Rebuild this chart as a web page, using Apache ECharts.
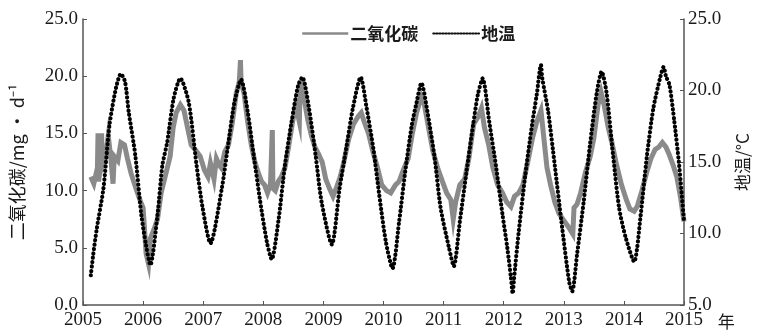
<!DOCTYPE html>
<html>
<head>
<meta charset="utf-8">
<script src="https://cdn.jsdelivr.net/npm/echarts@6/dist/echarts.min.js"></script>
<style>
html,body{margin:0;padding:0;background:#fff;}
#chart{width:759px;height:336px;}
</style>
</head>
<body>
<div id="chart"></div>
<script>
// ---- data ----
var seriesNames = ['二氧化碳', '地温'];
var yearTicks = ['2005','2006','2007','2008','2009','2010','2011','2012','2013','2014','2015'];
var leftTicks = ['0.0','5.0','10.0','15.0','20.0','25.0'];
var rightTicks = ['5.0','10.0','15.0','20.0','25.0'];

// CO2 (mg·d^-1)
var co2Years = [2005.13,2005.18,2005.24,2005.25,2005.26,2005.30,2005.31,2005.32,2005.38,2005.42,2005.46,2005.50,2005.52,2005.58,2005.63,2005.69,2005.74,2005.80,2005.88,2005.96,
2006.00,2006.05,2006.09,2006.12,2006.18,2006.24,2006.30,2006.38,2006.45,2006.50,2006.55,2006.62,2006.68,2006.74,2006.80,2006.88,2006.95,
2007.02,2007.08,2007.12,2007.18,2007.22,2007.27,2007.30,2007.36,2007.42,2007.48,2007.55,2007.60,2007.62,2007.63,2007.68,2007.74,2007.80,2007.86,2007.92,2007.97,
2008.02,2008.07,2008.12,2008.15,2008.16,2008.20,2008.25,2008.30,2008.36,2008.42,2008.48,2008.54,2008.60,2008.61,2008.64,2008.68,2008.74,2008.80,2008.86,2008.92,2008.98,
2009.04,2009.10,2009.16,2009.22,2009.28,2009.34,2009.42,2009.50,2009.58,2009.63,2009.68,2009.75,2009.82,2009.90,2009.97,
2010.05,2010.12,2010.20,2010.26,2010.33,2010.41,2010.48,2010.55,2010.63,2010.68,2010.75,2010.82,2010.90,2010.98,
2011.05,2011.12,2011.16,2011.20,2011.27,2011.35,2011.42,2011.50,2011.58,2011.63,2011.68,2011.75,2011.82,2011.90,2011.98,
2012.05,2012.12,2012.18,2012.25,2012.32,2012.40,2012.48,2012.55,2012.62,2012.67,2012.72,2012.78,2012.85,2012.92,
2013.00,2013.08,2013.15,2013.17,2013.22,2013.28,2013.36,2013.44,2013.50,2013.57,2013.62,2013.67,2013.74,2013.80,2013.88,2013.96,
2014.04,2014.10,2014.17,2014.22,2014.30,2014.38,2014.45,2014.52,2014.58,2014.64,2014.70,2014.75,2014.82,2014.88,2014.94,2015.00];
var co2Values = [11.2,10.6,12.0,15.0,10.8,12.6,15.0,12.2,13.2,14.8,13.0,10.6,13.0,12.6,14.2,14.0,12.8,11.5,10.2,9.0,
8.5,4.5,3.6,5.8,6.6,7.5,9.8,11.5,13.0,15.5,16.8,17.5,17.0,15.5,14.0,13.5,13.0,
11.8,11.2,12.4,11.0,12.8,12.2,12.0,13.4,14.0,15.8,18.5,19.5,21.4,19.5,18.5,16.0,14.0,12.5,11.5,10.8,
10.5,9.8,10.6,15.3,10.2,10.0,10.8,11.2,12.0,13.8,15.8,17.5,16.0,18.5,19.0,18.0,16.2,14.8,13.8,13.2,12.5,
11.0,10.2,9.5,10.3,11.2,12.5,14.5,15.8,16.5,16.8,16.0,15.0,13.5,12.0,10.5,
10.0,9.8,10.5,10.8,11.8,12.8,15.0,16.8,18.2,17.5,15.5,13.5,12.0,10.8,
9.8,9.2,7.5,9.0,10.5,11.0,12.8,15.8,16.5,17.2,15.5,14.0,12.0,10.5,9.8,
9.0,8.6,9.5,9.8,10.5,12.5,14.6,16.0,17.0,14.5,12.0,10.5,9.0,8.0,
7.4,6.8,6.2,8.5,8.8,9.8,11.6,13.0,14.6,17.5,18.6,17.5,15.5,14.2,12.2,10.5,
9.2,8.4,8.2,8.6,10.0,11.6,12.8,13.6,13.8,14.2,13.8,13.2,12.2,11.2,9.5,7.3];

// soil temperature (°C)
var tempYears = [2005.13,2005.17,2005.23,2005.34,2005.44,2005.55,2005.63,2005.70,2005.76,2005.87,2005.97,
2006.05,2006.12,2006.24,2006.32,2006.40,2006.51,2006.62,2006.76,2006.89,2006.99,
2007.12,2007.31,2007.42,2007.52,2007.63,2007.74,2007.84,2007.95,
2008.06,2008.14,2008.25,2008.36,2008.47,2008.58,2008.65,2008.76,2008.87,2008.97,
2009.14,2009.27,2009.38,2009.49,2009.62,2009.72,2009.83,2009.93,
2010.04,2010.15,2010.26,2010.36,2010.47,2010.55,2010.63,2010.74,2010.85,2010.95,
2011.09,2011.17,2011.27,2011.38,2011.49,2011.57,2011.65,2011.76,2011.87,2011.98,
2012.06,2012.12,2012.15,2012.17,2012.25,2012.36,2012.47,2012.55,2012.62,2012.64,2012.74,2012.85,2012.96,
2013.09,2013.14,2013.22,2013.33,2013.44,2013.55,2013.63,2013.71,2013.82,2013.92,
2014.03,2014.17,2014.28,2014.38,2014.49,2014.60,2014.66,2014.70,2014.76,2014.84,2014.92,2015.00];
var tempValues = [7.08,8.52,10.36,13.16,17.56,20.2,21.16,20.6,18.52,15.48,11.32,
9.16,7.8,11.32,14.76,16.36,19.48,20.84,19.16,14.76,11.8,
9.32,13.16,16.36,19.16,20.76,18.52,15.48,12.2,
9.4,8.2,10.84,14.76,17.8,20.36,20.92,18.76,15.48,12.2,
9.24,13.16,15.96,18.76,20.92,18.76,15.96,12.68,
9.4,7.56,10.84,14.28,17.56,19.16,20.52,18.28,15.32,11.8,
9.0,7.72,10.84,14.28,17.56,19.72,20.84,17.8,14.76,11.32,
9.0,6.92,5.8,6.76,10.12,14.12,17.56,19.72,21.8,20.92,18.52,14.76,10.84,
6.6,5.96,8.52,12.2,16.36,19.88,21.32,19.88,15.48,11.8,
9.72,8.04,11.32,15.32,18.76,20.84,21.64,21.0,20.36,17.8,14.76,10.84];

function pairs(xs, ys){ var o=[]; for(var i=0;i<xs.length;i++) o.push([xs[i], ys[i]]); return o; }

var serif = '"Liberation Serif","DejaVu Serif",serif';
var cjk = '"Noto Sans CJK SC","Liberation Serif",sans-serif';
var axisCol = '#555';
var txtCol = '#1a1a1a';

var chart = echarts.init(document.getElementById('chart'), null, {renderer:'canvas'});
chart.setOption({
  animation:false,
  backgroundColor:'#fff',
  grid:{left:76, right:66, top:19, bottom:31, containLabel:false},
  legend:{
    top:20, left:296,
    itemWidth:46, itemHeight:12, itemGap:14,
    itemStyle:{opacity:0},
    textStyle:{fontFamily:cjk, fontSize:17, color:txtCol, fontWeight:'bold', padding:[0,0,0,-3]},
    data:[
      {name:seriesNames[0], itemStyle:{opacity:0}, lineStyle:{width:2.5, color:'#8a8a8a'}},
      {name:seriesNames[1], itemStyle:{opacity:0}, lineStyle:{width:1.8, color:'#111', type:[1.5,1.5]}}
    ]
  },
  xAxis:{
    type:'value', min:2005, max:2015, interval:1,
    name:'年', nameLocation:'end', nameGap:20,
    nameTextStyle:{fontFamily:cjk, fontSize:17, color:txtCol, verticalAlign:'top', padding:[8,0,0,0]},
    axisLine:{show:true, lineStyle:{color:axisCol, width:1.5}},
    axisTick:{show:true, inside:true, length:4, lineStyle:{color:axisCol}},
    splitLine:{show:false},
    axisLabel:{fontFamily:serif, fontSize:19, color:txtCol, margin:6,
      formatter:function(v){ var i=Math.round(v-2005); return yearTicks[i]; }}
  },
  yAxis:[
    {
      type:'value', min:0, max:25, interval:5, position:'left',
      name:'二氧化碳/mg · d⁻¹', nameLocation:'middle', nameGap:57, nameRotate:90,
      nameTextStyle:{fontFamily:cjk, fontSize:18, color:txtCol},
      axisLine:{show:true, lineStyle:{color:axisCol, width:1.5}},
      axisTick:{show:true, inside:true, length:4, lineStyle:{color:axisCol}},
      splitLine:{show:false},
      axisLabel:{fontFamily:serif, fontSize:19, color:txtCol, margin:5,
        formatter:function(v){ return leftTicks[Math.round(v/5)]; }}
    },
    {
      type:'value', min:5, max:25, interval:5, position:'right',
      name:'地温/°C', nameLocation:'middle', nameGap:50, nameRotate:90,
      nameTextStyle:{fontFamily:cjk, fontSize:17, color:txtCol},
      axisLine:{show:true, lineStyle:{color:axisCol, width:1.5}},
      axisTick:{show:true, inside:true, length:4, lineStyle:{color:axisCol}},
      splitLine:{show:false},
      axisLabel:{fontFamily:serif, fontSize:19, color:txtCol, margin:4,
        formatter:function(v){ return rightTicks[Math.round((v-5)/5)]; }}
    }
  ],
  series:[
    {
      name:seriesNames[0], type:'line', yAxisIndex:0, showSymbol:false, symbol:'none',
      data:pairs(co2Years, co2Values),
      lineStyle:{color:'#8a8a8a', width:5, join:'miter'},
      itemStyle:{color:'#8a8a8a'}
    },
    {
      name:seriesNames[1], type:'line', yAxisIndex:1, showSymbol:false, symbol:'none',
      smooth:0.25,
      data:pairs(tempYears, tempValues),
      lineStyle:{color:'#000', width:4.2, type:[0.1,4.3], cap:'round'},
      itemStyle:{color:'#000'}
    }
  ]
});
</script>
</body>
</html>
